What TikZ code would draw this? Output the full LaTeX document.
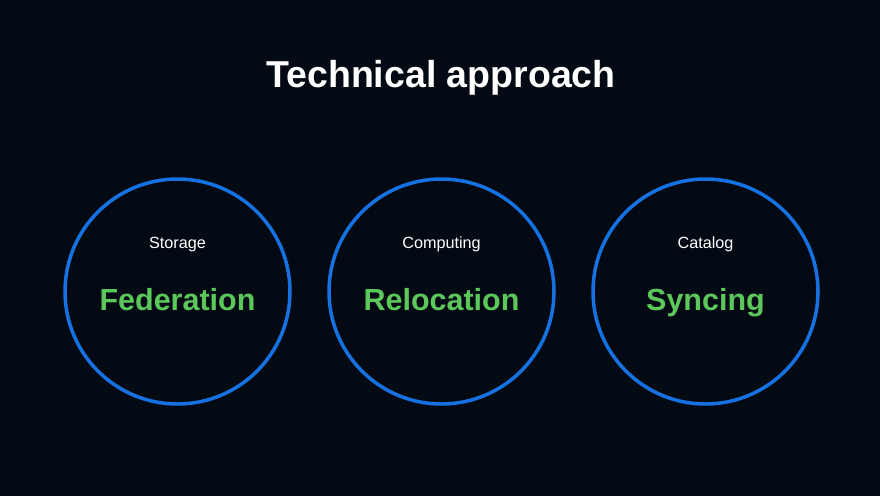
\documentclass[tikz,border=0pt]{standalone}
\usepackage{fontspec}
\setmainfont{Liberation Sans}
\begin{document}
\begin{tikzpicture}[x=1pt,y=-1pt,
  ring/.style={draw=ringblue,line width=3.5pt,circle,minimum size=225pt,inner sep=0pt},
  small/.style={text=white,anchor=base,inner sep=0pt,font=\fontsize{16.2}{18}\selectfont},
  big/.style={text=biggreen,anchor=base,inner sep=0pt,font=\bfseries\fontsize{30.5}{34}\selectfont},
  titlest/.style={text=white,anchor=base,inner sep=0pt,font=\bfseries\fontsize{37.5}{40}\selectfont}]
\definecolor{bg}{HTML}{030A14}
\definecolor{ringblue}{HTML}{1672E2}
\definecolor{biggreen}{HTML}{5CC85C}
\fill[bg] (0,0) rectangle (880,496);
\useasboundingbox (0,0) rectangle (880,496);
\node[titlest] (title) at (441,87) {Technical approach};
\node[ring] (c1) at (177.5,291.5) {};
\node[ring] (c2) at (441.5,291.5) {};
\node[ring] (c3) at (705.5,291.5) {};
\node[small] (s1) at (177.5,248) {Storage};
\node[small] (s2) at (441.5,248) {Computing};
\node[small] (s3) at (705.5,248) {Catalog};
\node[big] (b1) at (177.5,310) {Federation};
\node[big] (b2) at (441.5,310) {Relocation};
\node[big] (b3) at (705.5,310) {Syncing};
\end{tikzpicture}
\end{document}
